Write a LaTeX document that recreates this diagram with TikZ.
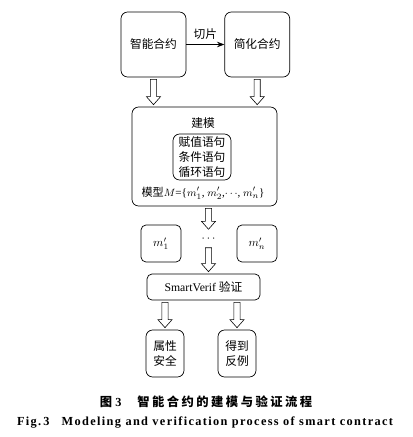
\documentclass[tikz,border=0pt]{standalone}
\usepackage{fontspec}
\setmainfont{Liberation Serif}
\newfontfamily\cjk{Noto Sans CJK SC}
\usetikzlibrary{positioning, arrows.meta, calc}

\begin{document}
\begin{tikzpicture}[
    x=0.03cm, y=-0.03cm,
    % rounded boxes of the flow
    box/.style={
        draw,
        line width=0.6pt,
        rounded corners=2mm,
        align=center,
        inner sep=1pt,
        font=\cjk\fontsize{10}{12.5}\selectfont
    },
    bigbox/.style={box, minimum width=1.95cm, minimum height=1.95cm},
    smallbox/.style={box, minimum width=1.14cm, minimum height=1.41cm},
    mbox/.style={box, minimum width=1.2cm, minimum height=1.11cm, rounded corners=1.5mm},
    arr/.style={-{Stealth[length=2.2mm]}, line width=0.6pt},
    % hollow block arrows between the stages (always pointing down)
    hollow/.style={line width=0.5pt, to path={
        let \p1=(\tikztostart), \p2=(\tikztotarget) in
        (\x1-2.6pt,\y1-1.7pt) -- (\x1-2.6pt,\y2+8.5pt) -- (\x1-6pt,\y2+8.5pt)
        -- (\x1,\y2+1.7pt) -- (\x1+6pt,\y2+8.5pt) -- (\x1+2.6pt,\y2+8.5pt)
        -- (\x1+2.6pt,\y1-1.7pt) -- cycle}},
    lbl/.style={font=\cjk\fontsize{10}{12}\selectfont, inner sep=4pt}
]
    \useasboundingbox (0,0) rectangle (413,437);

    % --- Nodes ---
    \node[bigbox] (smart) at (153.5,44.5) {智能合约};
    \node[bigbox, right=1.14cm of smart] (simple) {简化合约};

    \node[box, minimum width=4.35cm, minimum height=2.97cm] (model) at (204.5,156.5) {};
    \node[lbl] (build) at (203,123) {建模};
    \node[box, minimum width=1.74cm, minimum height=1.38cm] (stmts) at (202,157)
        {赋值语句\\条件语句\\循环语句};
    \node[font=\fontsize{9.5}{12}\selectfont] (set) at (203,193)
        {{\cjk 模型}$M$=\{$m'_1$, $m'_2$,$\cdots$, $m'_n$\}};

    \node[mbox] (m1) at (161,243.5) {$m'_1$};
    \node[inner sep=0pt, minimum height=0.42cm] (dots) at (208.5,238.5) {$\cdots$};
    \node[mbox] (mn) at (257,243.5) {$m'_n$};

    \node[box, minimum width=3.39cm, minimum height=0.78cm, rounded corners=1.5mm,
        font=\fontsize{10}{12}\selectfont] (verif) at (203.5,287) {SmartVerif {\cjk 验证}};

    \node[smallbox] (safe) at (165,353.5) {属性\\安全};
    \node[smallbox] (counter) at (237,353.5) {得到\\反例};

    % caption
    \node[font=\fontsize{10.5}{13}\selectfont\bfseries] (cap) at (206,402)
        {{\cjk\addfontfeature{LetterSpace=20}图}\ 3\hspace{1.3em}{\cjk\addfontfeature{LetterSpace=20}智能合约的建模与验证流程}};
    \node[font=\fontsize{10.5}{13}\selectfont\bfseries\addfontfeature{LetterSpace=11}] (capen) at (205,423)
        {Fig.\,3\quad Modeling and verification process of smart contract};

    % --- Edges ---
    \draw[arr] (smart) -- (simple) node[lbl, midway, above] {切片};

    \draw[hollow] (smart.south) to (smart.south |- model.north);
    \draw[hollow] (simple.south) to (simple.south |- model.north);
    \draw[hollow] (dots |- model.south) to (dots.north);
    \draw[hollow] (dots.south) to (dots |- verif.north);
    \draw[hollow] (safe |- verif.south) to (safe.north);
    \draw[hollow] (counter |- verif.south) to (counter.north);

\end{tikzpicture}
\end{document}
